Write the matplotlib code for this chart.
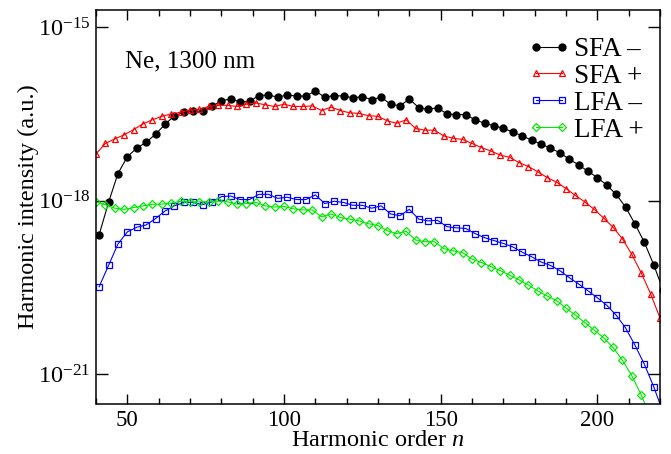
import numpy as np
import matplotlib
matplotlib.use("Agg")
import matplotlib.pyplot as plt
from matplotlib.ticker import FixedLocator, NullLocator, MultipleLocator

plt.rcParams['font.family'] = ['Liberation Serif', 'DejaVu Serif']
plt.rcParams['mathtext.fontset'] = 'custom'
plt.rcParams['mathtext.rm'] = 'Liberation Serif'
plt.rcParams['mathtext.it'] = 'Liberation Serif:italic'

# harmonic orders
n_minus = np.arange(41, 222, 3)
n_plus = np.arange(40, 221, 3)
n_lfa_plus = np.arange(40, 218, 3)

# log10 of harmonic intensity (a.u.)
sfa_minus_log = [
    -18.59, -18.03, -17.53, -17.24, -17.09, -16.99, -16.85, -16.68, -16.53, -16.47,
    -16.45, -16.45, -16.37, -16.27, -16.24, -16.29, -16.28, -16.18, -16.17, -16.21,
    -16.17, -16.19, -16.19, -16.10, -16.21, -16.18, -16.19, -16.22, -16.20, -16.25,
    -16.21, -16.33, -16.36, -16.24, -16.39, -16.42, -16.39, -16.50, -16.51, -16.51,
    -16.60, -16.66, -16.70, -16.75, -16.81, -16.88, -16.95, -17.02, -17.09, -17.17,
    -17.28, -17.38, -17.49, -17.60, -17.73, -17.89, -18.11, -18.40, -18.72, -19.11,
    -19.55]
sfa_plus_log = [
    -17.19, -17.01, -16.93, -16.86, -16.77, -16.67, -16.60, -16.54, -16.50, -16.47,
    -16.43, -16.42, -16.37, -16.35, -16.35, -16.37, -16.33, -16.31, -16.34, -16.37,
    -16.33, -16.37, -16.37, -16.36, -16.44, -16.38, -16.44, -16.48, -16.49, -16.53,
    -16.54, -16.62, -16.66, -16.60, -16.75, -16.78, -16.78, -16.88, -16.92, -16.94,
    -17.01, -17.08, -17.14, -17.21, -17.25, -17.34, -17.41, -17.50, -17.60, -17.68,
    -17.79, -17.91, -18.02, -18.15, -18.30, -18.46, -18.66, -18.93, -19.25, -19.61,
    -20.03]
lfa_minus_log = [
    -19.49, -19.12, -18.75, -18.54, -18.46, -18.42, -18.31, -18.18, -18.09, -18.03,
    -18.03, -18.07, -18.02, -17.93, -17.92, -17.98, -17.98, -17.89, -17.89, -17.96,
    -17.94, -17.98, -17.98, -17.90, -18.05, -18.01, -18.03, -18.08, -18.08, -18.13,
    -18.09, -18.23, -18.26, -18.15, -18.32, -18.35, -18.34, -18.45, -18.47, -18.48,
    -18.57, -18.64, -18.69, -18.74, -18.80, -18.89, -18.97, -19.06, -19.12, -19.21,
    -19.33, -19.44, -19.56, -19.68, -19.81, -19.98, -20.20, -20.50, -20.83, -21.22,
    -21.67]
lfa_plus_log = [
    -18.02, -18.07, -18.13, -18.15, -18.12, -18.09, -18.06, -18.06, -18.04, -18.01,
    -18.02, -18.02, -18.02, -18.01, -18.02, -18.06, -18.05, -18.03, -18.09, -18.11,
    -18.10, -18.14, -18.16, -18.16, -18.28, -18.23, -18.29, -18.32, -18.35, -18.40,
    -18.43, -18.52, -18.57, -18.53, -18.68, -18.71, -18.71, -18.83, -18.87, -18.90,
    -19.01, -19.07, -19.14, -19.21, -19.29, -19.37, -19.46, -19.56, -19.65, -19.73,
    -19.86, -19.98, -20.11, -20.24, -20.37, -20.54, -20.76, -21.03, -21.36, -21.76]

labels = ["SFA \u2013", "SFA +", "LFA \u2013", "LFA +"]
y_ticks = [1e-21, 1e-18, 1e-15]
y_tick_labels = [r"$10^{-21}$", r"$10^{-18}$", r"$10^{-15}$"]
x_ticks = [50, 100, 150, 200]

fig = plt.figure(figsize=(6.71, 4.54), dpi=100)
ax = fig.add_axes([96/671, 1 - 403.5/454, (660 - 96)/671, (403.5 - 10)/454])

lw = 0.8
ax.plot(n_minus, 10.0**np.array(sfa_minus_log), color='black', lw=lw, marker='o',
        ms=5.0, mfc='black', mec='black', label=labels[0])
ax.plot(n_plus, 10.0**np.array(sfa_plus_log), color='red', lw=lw, marker='^',
        ms=5.0, mfc='none', mec='red', mew=0.9, label=labels[1])
ax.plot(n_minus, 10.0**np.array(lfa_minus_log), color='blue', lw=lw, marker='s',
        ms=4.2, mfc='none', mec='blue', mew=0.9, label=labels[2])
ax.plot(n_lfa_plus, 10.0**np.array(lfa_plus_log), color='#00e800', lw=lw, marker='D',
        ms=3.8, mfc='none', mec='#00e800', mew=0.9, label=labels[3])

ax.set_yscale('log')
ax.set_xlim(40, 220)
ax.set_ylim(10**-21.51, 10**-14.7)
ax.yaxis.set_major_locator(FixedLocator(y_ticks))
ax.yaxis.set_minor_locator(NullLocator())
ax.set_yticklabels(y_tick_labels)
ax.xaxis.set_major_locator(FixedLocator(x_ticks))
ax.xaxis.set_minor_locator(MultipleLocator(10))

ax.tick_params(which='both', direction='in', top=True, right=True, width=1.0,
               labelsize=16.5)
ax.tick_params(axis='x', which='major', length=7, pad=5)
ax.tick_params(axis='x', which='minor', length=4)
ax.tick_params(axis='y', which='major', length=8.5, pad=4, labelsize=17.5)
for s in ax.spines.values():
    s.set_linewidth(1.1)

ax.set_xlabel(r"Harmonic order $n$", fontsize=17.5, labelpad=-1)
ax.set_ylabel("Harmonic intensity (a.u.)", fontsize=17.5, labelpad=-0.5)

ax.text((125 - 96)/564, (403.5 - 67)/393.5, "Ne, 1300 nm", transform=ax.transAxes,
        fontsize=18, va='baseline', ha='left')

leg = ax.legend(loc='upper left', bbox_to_anchor=((528 - 96)/564, (403.5 - 37)/393.5),
                frameon=False, fontsize=19.5, numpoints=2,
                handlelength=1.55, handletextpad=0.15, labelspacing=0.07,
                borderaxespad=0.0, borderpad=0.0)

fig.savefig("out.png", dpi=100)
